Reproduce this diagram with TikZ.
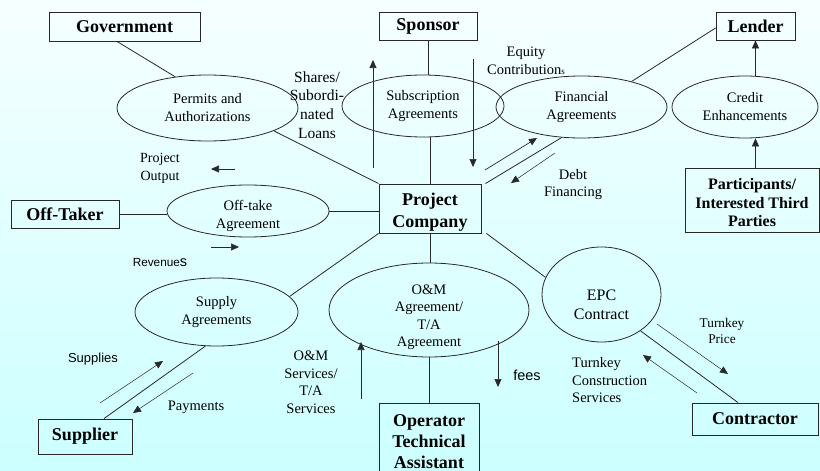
\documentclass[tikz,border=0pt]{standalone}
\usepackage{fontspec}
\setmainfont{Liberation Serif}
\setsansfont{Liberation Sans}
\usetikzlibrary{shapes.geometric,arrows.meta,calc}
\definecolor{bgtop}{RGB}{246,255,255}
\definecolor{bgbot}{RGB}{204,255,255}
\definecolor{ln}{RGB}{40,40,40}
\begin{document}
\begin{tikzpicture}[x=1pt,y=-1pt,
  label distance=0pt,
  ent/.style={draw=ln, line width=0.9pt, inner sep=0pt, align=center, font=\bfseries\fontsize{18}{22}\selectfont},
  entlab/.style={align=center, inner sep=0pt, font=\bfseries\fontsize{18}{22}\selectfont},
  agr/.style={draw=ln, ellipse, line width=0.8pt, inner sep=0pt},
  agrlab/.style={align=center, inner sep=0pt, font=\fontsize{14.5}{18}\selectfont},
  conn/.style={draw=ln, line width=0.8pt},
  arr/.style={draw=ln, line width=0.7pt, -{Triangle[length=8pt,width=7pt]}},
  lab/.style={align=center, inner sep=0pt, font=\fontsize{14.5}{17.5}\selectfont},
  slab/.style={align=center, inner sep=0pt, font=\sffamily\fontsize{13}{16}\selectfont}]
\clip (0,0) rectangle (820,471);
\shade[top color=bgtop, bottom color=bgbot] (0,0) rectangle (820,471);

% entity boxes
\node[ent, minimum width=151pt, minimum height=29pt] (gov) at (124.5,26.5) {Government};
\node[ent, minimum width=98pt, minimum height=28pt] (sponsor) at (428,26) {Sponsor};
\node[ent, minimum width=79pt, minimum height=28pt] (lender) at (755.5,26) {Lender};
\node[ent, minimum width=134pt, minimum height=64pt,
  label={[entlab, font=\bfseries\fontsize{16}{18.5}\selectfont, yshift=-3pt]center:Participants/\\Interested Third\\Parties}] (part) at (752,200) {};
\node[ent, minimum width=108pt, minimum height=28pt] (offtaker) at (65,214) {Off-Taker};
\node[ent, minimum width=102pt, minimum height=49pt,
  label={[entlab, yshift=-4pt]center:Project\\Company}] (pc) at (430,208.5) {};
\node[ent, minimum width=94pt, minimum height=35pt] (supplier) at (85,436.5) {Supplier};
\node[ent, minimum width=100pt, minimum height=82pt,
  label={[entlab, font=\bfseries\fontsize{18}{21}\selectfont, yshift=2pt]center:Operator\\Technical\\Assistant}] (op) at (429,444) {};
\node[ent, minimum width=126pt, minimum height=32pt] (contr) at (755,419) {Contractor};

% agreements
\node[agr, minimum width=181pt, minimum height=66pt,
  label={[agrlab]center:Permits and\\Authorizations}] (permits) at (207.5,108) {};
\node[agr, minimum width=162pt, minimum height=62pt,
  label={[agrlab]center:Subscription\\Agreements}] (subscr) at (423,106) {};
\node[agr, minimum width=171pt, minimum height=62pt,
  label={[agrlab]center:Financial\\Agreements}] (fin) at (581.5,107) {};
\node[agr, minimum width=146pt, minimum height=62pt,
  label={[agrlab]center:Credit\\Enhancements}] (credit) at (745,107) {};
\node[agr, minimum width=162pt, minimum height=52pt,
  label={[agrlab, yshift=-5pt]center:Off-take\\Agreement}] (offtake) at (248,211) {};
\node[agr, minimum width=163pt, minimum height=68pt,
  label={[agrlab]center:Supply\\Agreements}] (supply) at (216.5,312) {};
\node[agr, minimum width=200pt, minimum height=94pt,
  label={[agrlab, font=\fontsize{14.5}{17.5}\selectfont, yshift=-7pt]center:O\&M\\Agreement/\\T/A\\Agreement}] (om) at (429,310) {};
\node[agr, minimum width=119pt, minimum height=95pt,
  label={[agrlab, font=\fontsize{16}{19}\selectfont, yshift=-10pt]center:EPC\\Contract}] (epc) at (601.5,294.5) {};

% connectors
\draw[conn] ([xshift=-7.5pt]gov.south) -- (permits.136);
\draw[conn] (permits.-19) -- (pc.north west);
\draw[conn] (sponsor.south) -- (sponsor.south |- subscr.north);
\draw[conn] (pc.north |- subscr.south) -- (pc.north);
\draw[conn] (fin.-123) -- ([xshift=4pt]pc.north east);
\draw[conn] (fin.27) -- ([yshift=-2pt]lender.west);
\draw[arr] (credit.north -| lender.south) -- (lender.south);
\draw[arr] (part.north -| lender.south) -- (credit.south -| lender.south);
\draw[conn] (offtaker.east) -- (offtaker.east -| offtake.west);
\draw[conn] (offtake.east) -- (offtake.east -| pc.west);
\draw[conn] (pc.south west) -- (supply.12);
\draw[conn] (supply.-108) -- ([xshift=19pt]supplier.north);
\draw[conn] (pc.south) -- (pc.south |- om.north);
\draw[conn] (om.south) -- (op.north);
\draw[conn] ([xshift=5pt]pc.south east) -- (epc.163);
\draw[conn] (epc.-43) -- ([xshift=-17pt]contr.north);

% flow arrows
\coordinate (shA) at (373,168); \coordinate (shB) at (373,60);
\coordinate (eqA) at (473,59);  \coordinate (eqB) at (473,167);
\coordinate (dfA) at (485,170); \coordinate (dfB) at (537,138);
\coordinate (dbA) at (555,153); \coordinate (dbB) at (511,183);
\coordinate (poA) at (235,169); \coordinate (poB) at (211,169);
\coordinate (rvA) at (211,247); \coordinate (rvB) at (239,247);
\coordinate (spA) at (100,403); \coordinate (spB) at (163,361);
\coordinate (pyA) at (193,373); \coordinate (pyB) at (133,413);
\coordinate (osA) at (361,399); \coordinate (osB) at (361,342);
\coordinate (feA) at (498,341); \coordinate (feB) at (498,387);
\coordinate (tpA) at (657,324); \coordinate (tpB) at (728,374);
\coordinate (tcA) at (697,393); \coordinate (tcB) at (643,355);
\draw[arr] (shA) -- (shB);
\draw[arr] (eqA) -- (eqB);
\draw[arr] (dfA) -- (dfB);
\draw[arr, line width=0.5pt] (dbA) -- (dbB);
\draw[arr] (poA) -- (poB);
\draw[arr] (rvA) -- (rvB);
\draw[arr, line width=0.5pt] (spA) -- (spB);
\draw[arr, line width=0.5pt] (pyA) -- (pyB);
\draw[arr] (osA) -- (osB);
\draw[arr] (feA) -- (feB);
\draw[arr, line width=0.5pt] (tpA) -- (tpB);
\draw[arr, line width=0.5pt] (tcA) -- (tcB);

% flow labels
\node[lab, font=\fontsize{15.5}{18.7}\selectfont] (shares) at (317,105) {Shares/\\Subordi-\\nated\\Loans};
\node[lab] (equity) at (526,61) {Equity\\Contribution{\fontsize{9}{9}\selectfont s}};
\node[lab, font=\fontsize{14.5}{17}\selectfont] (debt) at (573,184.5) {Debt\\Financing};
\node[lab, font=\fontsize{14}{18}\selectfont] (output) at (160,168) {Project\\Output};
\node[slab, font=\sffamily\fontsize{11.8}{14}\selectfont] (revenues) at (160,263) {Revenue{\fontsize{14.5}{14}\selectfont s}};
\node[slab] (supplies) at (93,359) {Supplies};
\node[lab] (payments) at (196,407) {Payments};
\node[lab] (omserv) at (311,382) {O\&M\\Services/\\T/A\\Services};
\node[slab, font=\sffamily\fontsize{14.5}{16}\selectfont] (fees) at (527,375) {fees};
\node[lab, font=\fontsize{13.3}{16}\selectfont] (tprice) at (722,331) {Turnkey\\Price};
\node[lab, align=left, anchor=west] (tcons) at (572,380.5) {Turnkey\\Construction\\Services};
\end{tikzpicture}
\end{document}
